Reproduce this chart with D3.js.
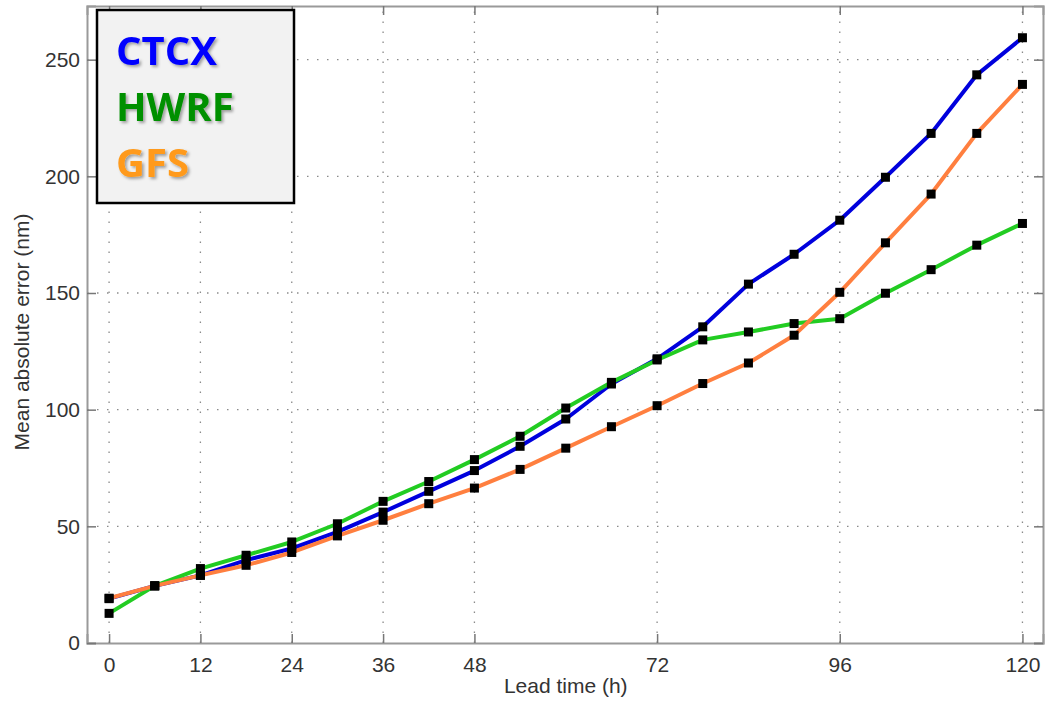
<!DOCTYPE html>
<html>
<head>
<meta charset="utf-8">
<script src="https://cdn.jsdelivr.net/npm/d3@7"></script>
<style>
  html, body { margin: 0; padding: 0; background: #fff; }
  svg { display: block; }
</style>
</head>
<body>
<script>
// ---- data ----
const leadTimes = [0,6,12,18,24,30,36,42,48,54,60,66,72,78,84,90,96,102,108,114,120];
const ctcx = [19,24.5,29,35.5,40.5,47.6,56.1,65,73.9,84.3,96,111,121.8,135.5,153.8,166.6,181.2,199.6,218.4,243.5,259.4];
const hwrf = [12.7,24.5,31.9,37.6,43.3,51.1,60.7,69.2,78.6,88.6,100.7,111.7,121.3,129.9,133.3,136.9,139,149.9,160,170.5,179.8];
const gfs  = [19.2,24.5,29,33.3,38.8,45.9,52.6,59.7,66.4,74.4,83.5,92.7,101.7,111.2,120,131.9,150.3,171.5,192.4,218.4,239.4];
const xTicks = [0,12,24,36,48,72,96,120];
const yTicks = [0,50,100,150,200,250];
const seriesNames = ["CTCX","HWRF","GFS"];
const lineColors = {CTCX:"#0000dd", HWRF:"#22cc22", GFS:"#ff7f3f"};
const legendColors = {CTCX:"#0000ff", HWRF:"#009000", GFS:"#ff9a1a"};
const seriesData = {CTCX: ctcx, HWRF: hwrf, GFS: gfs};
const drawOrder = ["CTCX","HWRF","GFS"];

const W = 1045, H = 702;
const L = 87, R = 1043, T = 6, B = 643;

const svg = d3.select("body").append("svg").attr("width", W).attr("height", H);

const x = d3.scaleLinear().domain([-2.9, 122.7]).range([L, R]);
const y = d3.scaleLinear().domain([0, 273]).range([B, T]);

// gridlines (dotted)
const grid = svg.append("g");
grid.selectAll("line.gx").data(xTicks).enter().append("line")
  .attr("x1", d => x(d)).attr("x2", d => x(d))
  .attr("y1", B).attr("y2", T)
  .attr("stroke", "#8a8a8a").attr("stroke-width", 1.3)
  .attr("stroke-dasharray", "1.5,8.5");
grid.selectAll("line.gy").data(yTicks.filter(d => d > 0)).enter().append("line")
  .attr("x1", L).attr("x2", R)
  .attr("y1", d => y(d)).attr("y2", d => y(d))
  .attr("stroke", "#8a8a8a").attr("stroke-width", 1.3)
  .attr("stroke-dasharray", "1.5,8.5");

// axes (box with inward ticks)
const axisColor = "#9a9a9a";
const fontFam = "Liberation Sans, Arial, sans-serif";
const gB = svg.append("g").attr("transform", `translate(0,${B})`)
  .call(d3.axisBottom(x).tickValues(xTicks).tickSize(-9).tickPadding(14).tickFormat(d3.format("d")));
const gLft = svg.append("g").attr("transform", `translate(${L},0)`)
  .call(d3.axisLeft(y).tickValues(yTicks).tickSize(-9).tickPadding(7).tickFormat(d3.format("d")));
const gTop = svg.append("g").attr("transform", `translate(0,${T})`)
  .call(d3.axisTop(x).tickValues(xTicks).tickSize(-9).tickFormat(""));
const gRgt = svg.append("g").attr("transform", `translate(${R},0)`)
  .call(d3.axisRight(y).tickValues(yTicks).tickSize(-9).tickFormat(""));
[gB, gLft, gTop, gRgt].forEach(g => {
  g.select(".domain").attr("stroke", axisColor).attr("stroke-width", 2);
  g.selectAll(".tick line").attr("stroke", "#777").attr("stroke-width", 1.5);
  g.selectAll(".tick text")
    .attr("fill", "#333")
    .style("font-family", fontFam)
    .style("font-size", "21px");
});

// axis labels
svg.append("text")
  .attr("x", x(60)).attr("y", 693)
  .attr("text-anchor", "middle")
  .attr("fill", "#333")
  .style("font-family", fontFam)
  .style("font-size", "21px")
  .text("Lead time (h)");
svg.append("text")
  .attr("transform", `translate(29,332) rotate(-90)`)
  .attr("text-anchor", "middle")
  .attr("fill", "#333")
  .style("font-family", fontFam)
  .style("font-size", "21px")
  .text("Mean absolute error (nm)");

// lines
const line = d3.line().x((d, i) => x(leadTimes[i])).y(d => y(d));
drawOrder.forEach(name => {
  svg.append("path")
    .datum(seriesData[name])
    .attr("d", line)
    .attr("fill", "none")
    .attr("stroke", lineColors[name])
    .attr("stroke-width", 4)
    .attr("stroke-linejoin", "round");
});
// markers
drawOrder.forEach(name => {
  svg.append("g").selectAll("rect").data(seriesData[name]).enter().append("rect")
    .attr("x", (d, i) => x(leadTimes[i]) - 4.5)
    .attr("y", d => y(d) - 4.5)
    .attr("width", 9).attr("height", 9)
    .attr("fill", "#000");
});

// legend
const defs = svg.append("defs");
const f = defs.append("filter").attr("id", "shadow").attr("x", "-10%").attr("y", "-10%").attr("width", "130%").attr("height", "130%");
f.append("feDropShadow").attr("dx", 2).attr("dy", 2).attr("stdDeviation", 1.5)
  .attr("flood-color", "#000").attr("flood-opacity", 0.35);

const lg = svg.append("g");
lg.append("rect")
  .attr("x", 97).attr("y", 10).attr("width", 197).attr("height", 193)
  .attr("fill", "#f2f2f2").attr("stroke", "#000").attr("stroke-width", 2.5);
seriesNames.forEach((name, i) => {
  lg.append("text")
    .attr("x", 116).attr("y", 65 + i * 56)
    .attr("fill", legendColors[name])
    .attr("filter", "url(#shadow)")
    .style("font-family", "Open Sans, Noto Sans, sans-serif")
    .style("font-weight", "bold")
    .style("font-size", "40px")
    .text(name);
});
</script>
</body>
</html>
